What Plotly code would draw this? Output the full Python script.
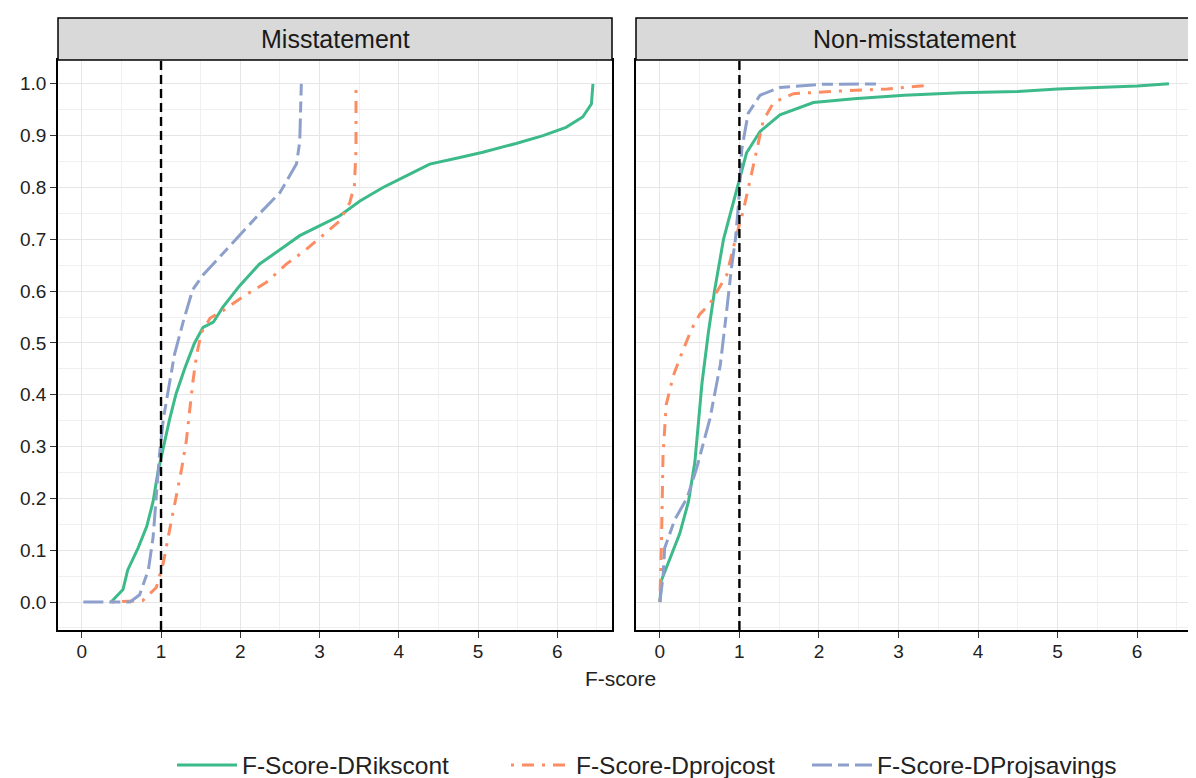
import plotly.graph_objects as go

# ---------------- data ----------------
panels = ["Misstatement", "Non-misstatement"]
series_names = ["F-Score-DRikscont", "F-Score-Dprojcost", "F-Score-DProjsavings"]
threshold = 1

# Misstatement panel
mis_rik_x = [0.37, 0.52, 0.58, 0.71, 0.82, 0.90, 0.96, 1.03, 1.11, 1.19, 1.30, 1.42, 1.53, 1.66, 1.78, 1.99,
             2.12, 2.24, 2.54, 2.75, 2.96, 3.25, 3.51, 3.80, 4.05, 4.39, 4.77, 5.06, 5.48, 5.82, 6.11, 6.32, 6.43, 6.45, 6.45]
mis_rik_y = [0.0, 0.024, 0.062, 0.104, 0.146, 0.194, 0.25, 0.298, 0.354, 0.402, 0.451, 0.499, 0.53, 0.54, 0.569, 0.61,
             0.632, 0.652, 0.684, 0.707, 0.723, 0.745, 0.774, 0.80, 0.819, 0.845, 0.858, 0.868, 0.885, 0.90, 0.916, 0.936, 0.961, 0.99, 1.0]

mis_cost_x = [0.37, 0.77, 0.94, 1.03, 1.09, 1.17, 1.26, 1.32, 1.36, 1.40, 1.45, 1.51, 1.62, 1.78, 2.03, 2.33,
              2.58, 2.83, 3.09, 3.25, 3.38, 3.44, 3.46, 3.46]
mis_cost_y = [0.0, 0.003, 0.028, 0.076, 0.125, 0.187, 0.257, 0.312, 0.368, 0.423, 0.478, 0.52, 0.548, 0.562, 0.589, 0.617,
              0.652, 0.68, 0.714, 0.735, 0.77, 0.804, 0.874, 1.0]

mis_sav_x = [0.02, 0.61, 0.73, 0.84, 0.90, 0.94, 0.98, 1.03, 1.11, 1.17, 1.28, 1.40, 1.53, 1.74, 1.99, 2.24,
             2.50, 2.71, 2.75, 2.76, 2.77]
mis_sav_y = [0.0, 0.0, 0.014, 0.062, 0.125, 0.215, 0.284, 0.354, 0.423, 0.478, 0.541, 0.603, 0.631, 0.666, 0.707, 0.749,
             0.79, 0.846, 0.888, 0.943, 1.0]

# Non-misstatement panel
non_rik_x = [0.0, 0.02, 0.25, 0.36, 0.44, 0.53, 0.61, 0.69, 0.80, 0.90, 0.99, 1.09, 1.26, 1.51, 1.93, 2.44,
             3.07, 3.78, 4.5, 5.0, 6.0, 6.4]
non_rik_y = [0.0, 0.042, 0.132, 0.194, 0.27, 0.423, 0.52, 0.603, 0.70, 0.756, 0.811, 0.867, 0.908, 0.94, 0.964, 0.971,
             0.978, 0.983, 0.985, 0.99, 0.996, 1.0]

non_cost_x = [0.0, 0.02, 0.04, 0.08, 0.17, 0.27, 0.40, 0.50, 0.63, 0.71, 0.84, 0.95, 1.05, 1.14, 1.22, 1.30,
              1.43, 1.68, 2.23, 2.86, 3.36]
non_cost_y = [0.0, 0.111, 0.284, 0.381, 0.437, 0.478, 0.527, 0.555, 0.576, 0.596, 0.631, 0.70, 0.756, 0.818, 0.874, 0.929,
              0.964, 0.981, 0.986, 0.99, 0.997]

non_sav_x = [0.0, 0.04, 0.06, 0.19, 0.34, 0.46, 0.63, 0.76, 0.84, 0.90, 0.95, 0.99, 1.03, 1.11, 1.26, 1.51,
             2.02, 2.77]
non_sav_y = [0.0, 0.049, 0.104, 0.16, 0.20, 0.257, 0.354, 0.458, 0.562, 0.645, 0.70, 0.77, 0.874, 0.943, 0.978, 0.993,
             0.999, 1.0]

x_ticks = [0, 1, 2, 3, 4, 5, 6]
y_ticks = [0.0, 0.1, 0.2, 0.3, 0.4, 0.5, 0.6, 0.7, 0.8, 0.9, 1.0]
y_tick_labels = ["0.0", "0.1", "0.2", "0.3", "0.4", "0.5", "0.6", "0.7", "0.8", "0.9", "1.0"]

# ---------------- style ----------------
colors = ["#3dba8a", "#fc8d62", "#8da0cb"]
dashes = ["solid", "3px,8px,12px,8px", "20px,6px,11px,6px"]
legend_ids = ["legend", "legend2", "legend3"]
legend_x_px = [172, 506, 807]
FONT = "Liberation Sans, Arial, sans-serif"

# the page body has an 8px margin: the figure starts 8px in from the window corner
OFF = 8
W, H = 1196 - OFF, 778 - OFF


def px(xpix):
    return (xpix - OFF) / W


def py(ypix):
    return (H - (ypix - OFF)) / H


fig = go.Figure()

data_sets = [
    ("x", "y", [(mis_rik_x, mis_rik_y), (mis_cost_x, mis_cost_y), (mis_sav_x, mis_sav_y)]),
    ("x2", "y2", [(non_rik_x, non_rik_y), (non_cost_x, non_cost_y), (non_sav_x, non_sav_y)]),
]
for pi, (xa, ya, sets) in enumerate(data_sets):
    for si, (xs, ys) in enumerate(sets):
        fig.add_trace(go.Scatter(
            x=xs, y=ys, mode="lines", xaxis=xa, yaxis=ya,
            name=series_names[si], legendgroup=series_names[si], showlegend=(pi == 0),
            legend=legend_ids[si],
            line=dict(color=colors[si], width=3, dash=dashes[si]),
        ))

# panel geometry (paper fractions)
left_dom = [px(58), px(612)]
right_dom = [px(636), px(1192)]
y_dom = [py(630), py(60)]
strip_top = py(18)

xrange = [-0.3, 6.69]
yrange = [-0.054, 1.046]
grid_col = "#e6e6e6"
minor_col = "#f0f0f0"

common_x = dict(range=xrange, tickvals=x_ticks, ticks="outside", ticklen=6, tickcolor="#333",
                tickwidth=1.2, showline=True, linecolor="black", linewidth=1.5, mirror=True,
                showgrid=True, gridcolor=grid_col, gridwidth=1.3, zeroline=False, automargin=False,
                ticklabelstandoff=-3,
                minor=dict(dtick=0.5, tick0=0, showgrid=True, gridcolor=minor_col, gridwidth=1),
                tickfont=dict(family=FONT, size=19, color="#222"))
common_y = dict(range=yrange, tickvals=y_ticks, showline=True, linecolor="black", linewidth=1.5,
                mirror=True, showgrid=True, gridcolor=grid_col, gridwidth=1.3, zeroline=False,
                automargin=False,
                minor=dict(dtick=0.05, tick0=0, showgrid=True, gridcolor=minor_col, gridwidth=1),
                domain=y_dom)

legend_style = dict(orientation="h", y=py(765), yanchor="middle", xanchor="left",
                    font=dict(family=FONT, size=24.5, color="#222"), itemwidth=60,
                    bgcolor="rgba(0,0,0,0)", borderwidth=0)

fig.update_layout(
    width=W, height=H,
    margin=dict(l=0, r=0, t=0, b=0, autoexpand=False),
    paper_bgcolor="white", plot_bgcolor="white",
    xaxis=dict(domain=left_dom, anchor="y", **common_x),
    xaxis2=dict(domain=right_dom, anchor="y2", **common_x),
    yaxis=dict(anchor="x", ticks="outside", ticklen=6, tickcolor="#333", tickwidth=1.2,
               ticktext=y_tick_labels, tickfont=dict(family=FONT, size=19, color="#222"), **common_y),
    yaxis2=dict(anchor="x2", showticklabels=False, ticks="", **common_y),
    legend=dict(x=px(legend_x_px[0]), **legend_style),
    legend2=dict(x=px(legend_x_px[1]), **legend_style),
    legend3=dict(x=px(legend_x_px[2]), **legend_style),
    showlegend=True,
)

shapes = []
annotations = []
for dom, name in zip([left_dom, right_dom], panels):
    shapes.append(dict(type="rect", xref="paper", yref="paper", x0=dom[0], x1=dom[1],
                       y0=y_dom[1], y1=strip_top, fillcolor="#d9d9d9",
                       line=dict(color="black", width=1.5), layer="above"))
    annotations.append(dict(text=name, xref="paper", yref="paper", x=(dom[0] + dom[1]) / 2,
                            y=(y_dom[1] + strip_top) / 2, showarrow=False, xanchor="center",
                            yanchor="middle", font=dict(family=FONT, size=25, color="#1a1a1a")))

for xa in ["x", "x2"]:
    shapes.append(dict(type="line", xref=xa, yref=xa.replace("x", "y") + " domain",
                       x0=threshold, x1=threshold, y0=0, y1=1,
                       line=dict(color="black", width=2.4, dash="9px,5px"), layer="above"))

annotations.append(dict(text="F-score", xref="paper", yref="paper", x=px(620), y=py(678),
                        showarrow=False, xanchor="center", yanchor="middle",
                        font=dict(family=FONT, size=21, color="#222")))

fig.update_layout(shapes=shapes, annotations=annotations)
fig.write_html("out.html")
